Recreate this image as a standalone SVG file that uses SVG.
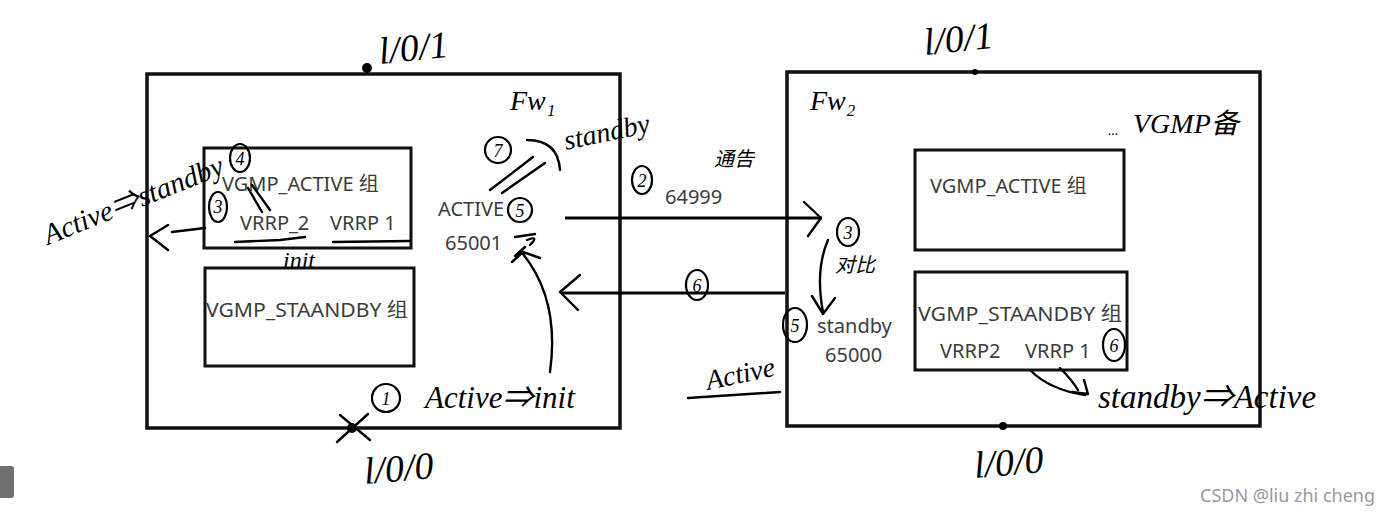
<svg xmlns="http://www.w3.org/2000/svg" width="1390" height="514" viewBox="0 0 1390 514">
<style>
.outer{fill:none;stroke:#111;stroke-width:3.5}
.inner{fill:none;stroke:#111;stroke-width:3}
.pt{font-family:"Noto Sans","Open Sans","Noto Sans CJK SC",sans-serif;font-size:20px;fill:#3c3c3c}
.hw{font-family:"Liberation Serif","Noto Sans CJK SC",serif;font-style:italic;fill:#000}
.ink{fill:none;stroke:#000;stroke-width:2.4;stroke-linecap:round;stroke-linejoin:round}
.line{fill:none;stroke:#000;stroke-width:3}
.circ{fill:none;stroke:#000;stroke-width:2.2}
.num{font-family:"Liberation Serif",serif;font-style:italic;font-size:18px;fill:#000;text-anchor:middle}
</style>
<rect width="1390" height="514" fill="#fff"/>
<g id="fw1">
<rect class="outer" x="147" y="74" width="473" height="354"/>
<circle cx="367" cy="68" r="5"/>
<circle cx="352" cy="428" r="5"/>
<path class="ink" d="M337,442 L368,414 M340,415 L370,440"/>
<text class="hw" x="380" y="64" font-size="38" transform="rotate(-6 380 64)">l/0/1</text>
<text class="hw" x="365" y="484" font-size="38" transform="rotate(-5 365 484)">l/0/0</text>
<text class="hw" x="510" y="110" font-size="28">Fw₁</text>
<text class="pt" x="438" y="216">ACTIVE</text>
<text class="pt" x="445" y="250">65001</text>
</g>
<g id="fw1-active">
<rect class="inner" x="204" y="148" width="207" height="100"/>
<text class="pt" x="222" y="191">VGMP_ACTIVE 组</text>
<text class="pt" x="240" y="230">VRRP_2</text>
<text class="pt" x="330" y="230">VRRP 1</text>
</g>
<g id="fw1-standby">
<rect class="inner" x="205" y="268" width="209" height="98"/>
<text class="pt" x="206" y="317" textLength="202" lengthAdjust="spacingAndGlyphs">VGMP_STAANDBY 组</text>
</g>
<g id="fw2">
<rect class="outer" x="787" y="72" width="473" height="354"/>
<circle cx="975" cy="72" r="3"/>
<circle cx="1003" cy="426" r="4"/>
<text class="hw" x="925" y="55" font-size="38" transform="rotate(-6 925 55)">l/0/1</text>
<text class="hw" x="975" y="478" font-size="38" transform="rotate(-5 975 478)">l/0/0</text>
<text class="hw" x="810" y="110" font-size="28">Fw₂</text>
<text class="hw" x="1108" y="135" font-size="14">...</text>
<text class="hw" x="1133" y="133" font-size="28">VGMP备</text>
<text class="pt" x="817" y="333">standby</text>
<text class="pt" x="825" y="362">65000</text>
</g>
<g id="fw2-active">
<rect class="inner" x="915" y="150" width="209" height="100"/>
<text class="pt" x="930" y="193">VGMP_ACTIVE 组</text>
</g>
<g id="fw2-standby">
<rect class="inner" x="915" y="272" width="212" height="98"/>
<text class="pt" x="918" y="321" textLength="204" lengthAdjust="spacingAndGlyphs">VGMP_STAANDBY 组</text>
<text class="pt" x="940" y="358">VRRP2</text>
<text class="pt" x="1025" y="358">VRRP 1</text>
</g>
<g id="connectors">
<path class="line" d="M565,218 L822,218"/>
<path class="ink" d="M804,202 L821,218 L808,236"/>
<path class="line" d="M785,293 L562,293"/>
<path class="ink" d="M580,275 L560,292 L578,310"/>
<path class="ink" d="M550,372 Q560,300 523,254 M512,262 L523,252 L540,258 M515,256 L525,247"/>
<path class="ink" d="M490,190 L533,157 M502,193 L545,163 M527,140 Q558,140 560,170"/>
<path class="ink" d="M828,240 Q815,270 823,312 M812,296 L823,314 L835,298"/>
<path class="ink" d="M205,228 L172,232 M168,225 L150,236 L168,250"/>
<path class="ink" d="M235,242 L280,240 L305,237 M333,242 L410,241"/>
<path class="ink" d="M248,188 L262,212 M252,185 L270,210"/>
<path class="ink" d="M1030,370 Q1050,390 1085,395 M1060,368 Q1072,380 1078,390 M1072,392 L1088,394 L1084,380"/>
<path class="ink" d="M688,398 L780,392"/>
<path class="ink" d="M515,237 L535,234 M527,240 Q540,235 530,245"/>
</g>
<g id="annotations">
<circle class="circ" cx="498" cy="150" r="13"/>
<text class="num" x="498" y="157">7</text>
<text class="hw" x="566" y="150" font-size="28" transform="rotate(-12 566 150)">standby</text>
<circle class="circ" cx="520" cy="210" r="12"/>
<text class="num" x="520" y="217">5</text>
<ellipse class="circ" cx="642" cy="180" rx="10" ry="14"/>
<text class="num" x="642" y="187">2</text>
<text class="pt" x="665" y="204">64999</text>
<text class="hw" x="714" y="166" font-size="20">通告</text>
<ellipse class="circ" cx="848" cy="232" rx="11" ry="14"/>
<text class="num" x="848" y="239">3</text>
<text class="hw" x="835" y="272" font-size="20">对比</text>
<ellipse class="circ" cx="697" cy="285" rx="11" ry="15"/>
<text class="num" x="697" y="292">6</text>
<ellipse class="circ" cx="795" cy="325" rx="12" ry="17"/>
<text class="num" x="795" y="332">5</text>
<text class="hw" x="708" y="390" font-size="28" transform="rotate(-12 708 390)">Active</text>
<ellipse class="circ" cx="1114" cy="345" rx="11" ry="16"/>
<text class="num" x="1114" y="352">6</text>
<text class="hw" x="1098" y="408" font-size="33">standby⇒Active</text>
<circle class="circ" cx="386" cy="398" r="14"/>
<text class="num" x="386" y="405">1</text>
<text class="hw" x="425" y="408" font-size="31">Active⇒init</text>
<text class="hw" x="48" y="245" font-size="29" transform="rotate(-22 48 245)">Active⇒standby</text>
<ellipse class="circ" cx="240" cy="158" rx="10" ry="14"/>
<text class="num" x="240" y="165">4</text>
<ellipse class="circ" cx="218" cy="207" rx="9" ry="15"/>
<text class="num" x="218" y="213">3</text>
<text class="hw" x="283" y="268" font-size="24">init</text>
<text x="1200" y="502" font-family="Noto Sans,sans-serif" font-size="18" fill="#9a9a9a">CSDN @liu zhi cheng</text>
<rect x="-6" y="466" width="20" height="32" rx="3" fill="#707070"/>
</g>
</svg>
